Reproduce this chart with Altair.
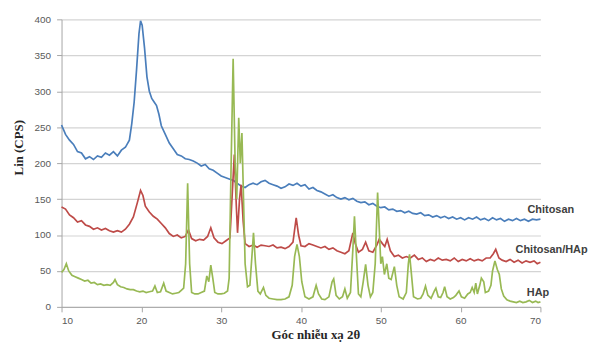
import altair as alt
import pandas as pd

# ---- data ----
chitosan_x = [10, 10.5, 11, 11.5, 12, 12.5, 13, 13.5, 14, 14.5, 15, 15.5, 16, 16.5, 17, 17.5, 18, 18.5,
              18.8, 19.1, 19.4, 19.7, 19.9, 20.1, 20.4, 20.7, 21.0, 21.3, 21.6, 21.9, 22.2, 22.5,
              23, 23.5, 24, 24.5, 25, 25.5, 26, 26.5, 27, 27.5, 28, 28.5, 29, 29.5, 30, 30.5, 31, 31.5,
              32, 32.5, 33, 33.5, 34, 34.5, 35, 35.5, 36, 36.5, 37, 37.5, 38, 38.5, 39, 39.5, 40, 40.5,
              41, 41.5, 42, 42.5, 43, 43.5, 44, 44.5, 45, 45.5, 46, 46.5, 47, 47.5, 48, 48.5, 49, 49.5,
              50, 50.5, 51, 51.5, 52, 52.5, 53, 53.5, 54, 54.5, 55, 55.5, 56, 56.5, 57, 57.5, 58, 58.5,
              59, 59.5, 60, 60.5, 61, 61.5, 62, 62.5, 63, 63.5, 64, 64.5, 65, 65.5, 66, 66.5, 67, 67.5,
              68, 68.5, 69, 69.5, 70]
chitosan_y = [253, 240, 232, 226, 216, 214, 206, 209, 205, 210, 208, 214, 211, 216, 210, 218, 222, 232,
              255, 285, 330, 380, 398, 392, 360, 320, 300, 290, 285, 280, 268, 252,
              240, 228, 220, 212, 210, 206, 205, 203, 200, 196, 198, 192, 190, 186, 182, 180, 178, 176,
              172, 168, 166, 170, 172, 170, 174, 176, 172, 170, 168, 165, 167, 171, 169, 172, 168, 170,
              164, 166, 162, 160, 157, 154, 156, 152, 150, 152, 149, 151, 147, 145, 146, 142, 144, 140,
              138, 139, 135, 136, 133, 134, 131, 133, 130, 129, 131, 127, 128, 125, 127, 124, 126, 123,
              125, 122, 124, 121, 124, 122, 125, 121, 123, 120, 124, 121, 123, 119, 122, 120, 123, 120,
              122, 119, 122, 121, 122]

composite_x = [10, 10.5, 11, 11.5, 12, 12.5, 13, 13.5, 14, 14.5, 15, 15.5, 16, 16.5, 17, 17.5, 18, 18.5,
               19, 19.5, 19.9, 20.2, 20.5, 21, 21.5, 22, 22.5, 23, 23.5, 24, 24.5, 25, 25.5, 25.9, 26.3,
               26.8, 27.3, 27.8, 28.3, 28.7, 29.1, 29.6, 30.1, 30.6, 31.1, 31.4, 31.65, 31.9, 32.05, 32.3,
               32.5, 32.75, 33.0, 33.5, 34.0, 34.5, 35, 35.5, 36, 36.5, 37, 37.5, 38, 38.5, 39, 39.4, 39.7,
               40, 40.5, 41, 41.5, 42, 42.5, 43, 43.5, 44, 44.5, 45, 45.5, 46, 46.5, 46.8, 47.2, 47.7, 48.1,
               48.5, 49.0, 49.5, 49.8, 50.2, 50.5, 50.8, 51.2, 51.7, 52.2, 52.7, 53.2, 53.7, 54.2, 54.7,
               55.2, 55.7, 56.2, 56.7, 57.2, 57.7, 58.2, 58.7, 59.2, 59.7, 60.2, 60.7, 61.2, 61.7, 62.2,
               62.7, 63.2, 63.7, 64.1, 64.4, 64.8, 65.2, 65.7, 66.2, 66.7, 67.2, 67.7, 68.2, 68.7, 69.2,
               69.6, 70]
composite_y = [139, 136, 128, 124, 118, 120, 114, 112, 108, 110, 107, 109, 106, 104, 106, 104, 108, 115,
               125, 145, 162, 155, 140, 132, 126, 122, 116, 110, 102, 98, 100, 96, 98, 107, 95,
               92, 94, 93, 98, 110, 96, 90, 88, 92, 96, 160, 212, 140, 103, 150,
               170, 120, 88, 84, 86, 83, 86, 85, 84, 86, 82, 83, 81, 84, 90, 124, 100,
               85, 84, 88, 86, 84, 82, 84, 80, 82, 78, 76, 74, 78, 103, 88, 76, 80, 90,
               78, 76, 86, 94, 88, 84, 94, 78, 70, 72, 68, 70, 68, 72, 66,
               68, 63, 66, 64, 68, 65, 66, 64, 68, 63, 66, 64, 67, 64, 66,
               64, 68, 68, 74, 80, 68, 65, 63, 66, 62, 65, 61, 64, 62, 64,
               60, 62]

hap_x = [10, 10.3, 10.6, 10.9, 11.3, 11.7, 12.1, 12.5, 12.9, 13.3, 13.7, 14.1, 14.5, 14.9, 15.3, 15.7,
         16.1, 16.5, 16.7, 17.0, 17.4, 17.8, 18.2, 18.6, 19.0, 19.4, 19.8, 20.2, 20.6, 21.0, 21.4, 21.7,
         22.0, 22.4, 22.8, 23.1, 23.5, 23.9, 24.3, 24.7, 25.0, 25.3, 25.55, 25.8, 26.05, 26.3, 26.7,
         27.1, 27.5, 27.9, 28.2, 28.45, 28.7, 28.95, 29.2, 29.6, 30.0, 30.4, 30.8, 31.0, 31.25, 31.5,
         31.75, 31.95, 32.2, 32.4, 32.6, 32.8, 33.0, 33.3, 33.6, 33.85, 34.05, 34.3, 34.6, 34.9, 35.3,
         35.6, 36.0, 36.5, 37.0, 37.5, 38.0, 38.5, 38.9, 39.2, 39.5, 39.8, 40.1, 40.5, 41.0, 41.5, 41.9,
         42.2, 42.6, 43.0, 43.5, 43.9, 44.1, 44.4, 44.8, 45.2, 45.5, 45.8, 46.2, 46.5, 46.7, 46.95,
         47.2, 47.5, 47.8, 48.1, 48.4, 48.7, 49.0, 49.3, 49.6, 49.8, 50.0, 50.2, 50.45, 50.75, 51.0,
         51.3, 51.7, 52.0, 52.3, 52.8, 53.2, 53.45, 53.6, 53.8, 54.1, 54.6, 55.0, 55.3, 55.6, 55.9,
         56.3, 56.7, 56.9, 57.2, 57.5, 57.8, 58.0, 58.3, 58.7, 59.1, 59.4, 59.8, 60.1, 60.5, 60.9,
         61.2, 61.45, 61.7, 61.9, 62.1, 62.4, 62.6, 62.9, 63.1, 63.5, 63.8, 64.0, 64.3, 64.6, 64.85,
         65.1, 65.4, 65.8, 66.2, 66.6, 67.0, 67.4, 67.8, 68.2, 68.6, 69.0, 69.4, 69.7, 70.0]
hap_y = [48, 52, 60, 50, 44, 42, 40, 38, 36, 37, 33, 34, 31, 32, 30, 31,
         30, 34, 38, 31, 28, 27, 25, 24, 24, 22, 21, 22, 20, 21, 22, 29,
         20, 21, 33, 22, 20, 18, 19, 20, 23, 26, 60, 172, 60, 20, 18,
         18, 20, 22, 43, 35, 58, 40, 20, 18, 18, 19, 22, 40, 200, 345,
         200, 150, 263, 200, 242, 150, 60, 28, 30, 70, 103, 60, 22, 18, 27,
         16, 12, 11, 10, 10, 11, 14, 30, 70, 87, 70, 35, 14, 11, 14, 30,
         18, 11, 10, 14, 35, 39, 16, 11, 14, 25, 12, 20, 80, 126, 70,
         18, 14, 35, 59, 30, 14, 20, 60, 159, 110, 60, 70, 45, 60, 40,
         38, 56, 30, 14, 11, 20, 60, 73, 50, 14, 11, 12, 18, 29, 16,
         12, 22, 26, 14, 13, 20, 28, 14, 11, 13, 16, 22, 14, 12, 18,
         20, 27, 20, 33, 18, 30, 40, 35, 20, 22, 30, 50, 64, 52, 45,
         25, 15, 10, 8, 7, 6, 8, 6, 7, 9, 6, 8, 6, 7]

series_names = ["Chitosan", "Chitosan/HAp", "HAp"]
series_colors = ["#4a7ebb", "#be4b48", "#98b954"]

label_text = ["Chitosan", "Chitosan/HAp", "HAp"]
label_x = [71.3, 71.4, 69.7]
label_y = [135, 79, 19]

x_ticks = [10, 20, 30, 40, 50, 60, 70]
y_ticks = [0, 50, 100, 150, 200, 250, 300, 350, 400]

# ---- build tables ----
frames = []
for name, xs, ys in zip(series_names,
                        [chitosan_x, composite_x, hap_x],
                        [chitosan_y, composite_y, hap_y]):
    frames.append(pd.DataFrame({"x": xs, "y": ys, "series": name}))
df = pd.concat(frames, ignore_index=True)
labels = pd.DataFrame({"x": label_x, "y": label_y, "label": label_text})

x_scale = alt.Scale(domain=[10, 70], nice=False, zero=False)
y_scale = alt.Scale(domain=[0, 400], nice=False)

x_enc = alt.X("x:Q", scale=x_scale,
              axis=alt.Axis(values=x_ticks, title="Góc nhiễu xạ 2θ", grid=False,
                            titleX=256, titleY=28, titleAnchor="middle",
                            titleBaseline="middle"))
y_enc = alt.Y("y:Q", scale=y_scale,
              axis=alt.Axis(values=y_ticks, title="Lin (CPS)", grid=True,
                            titleX=-43, titleY=129, titleAngle=270,
                            titleAlign="center", titleBaseline="middle"))

layers = []
for name, col in zip(series_names, series_colors):
    layers.append(
        alt.Chart(df).transform_filter(alt.datum.series == name)
        .mark_line(color=col, strokeWidth=1.7)
        .encode(x=x_enc, y=y_enc)
    )

text = alt.Chart(labels).mark_text(font="Liberation Sans", fontWeight="bold", fontSize=11,
                                   color="#404040", align="center", baseline="middle").encode(
    x=x_enc, y=y_enc, text="label:N")

chart = alt.layer(*layers, text).properties(
    width=483, height=290,
    autosize=alt.AutoSizeParams(type="none"),
    padding={"left": 54, "top": 10, "right": 50, "bottom": 36},
).configure_view(stroke=None).configure_axis(
    labelFont="Liberation Sans", labelFontSize=10, labelColor="#595959",
    domainColor="#a6a6a6", tickColor="#a6a6a6", tickSize=5,
    gridColor="#d4d4d4", gridWidth=1.2,
    titleFont="Liberation Serif", titleFontWeight="bold", titleFontSize=13, titleColor="#262626",
).configure_axisX(labelPadding=4).configure_axisY(labelPadding=6)

chart.save("out.html", embed_options={"renderer": "svg", "actions": False})
